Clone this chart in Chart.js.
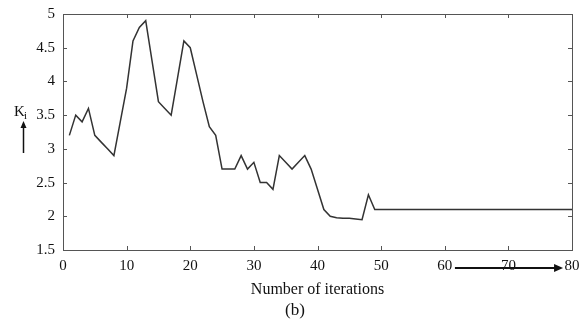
<!DOCTYPE html>
<html lang="en">
<head>
    <meta charset="UTF-8">
    <title>Ki vs number of iterations</title>
    <script src="https://cdn.jsdelivr.net/npm/chart.js"></script>
    <style>
        html, body { margin: 0; padding: 0; background: #fff; }
        .container { width: 582px; height: 325px; }
    </style>
</head>
<body>
    <div class="container">
        <canvas id="kiChart" width="582" height="325"></canvas>
    </div>

    <script>
        // data
        const iterations = [1, 2, 3, 4, 5, 6, 7, 8, 9, 10,
            11, 12, 13, 14, 15, 16, 17, 18, 19, 20,
            21, 22, 23, 24, 25, 26, 27, 28, 29, 30,
            31, 32, 33, 34, 35, 36, 37, 38, 39, 40,
            41, 42, 43, 44, 45, 46, 47, 48, 49, 50, 80];
        const kiValues = [3.2, 3.5, 3.4, 3.6, 3.2, 3.1, 3.0, 2.9, 3.4, 3.9,
            4.6, 4.8, 4.9, 4.3, 3.7, 3.6, 3.5, 4.05, 4.6, 4.5,
            4.1, 3.7, 3.33, 3.2, 2.7, 2.7, 2.7, 2.9, 2.7, 2.8,
            2.5, 2.5, 2.4, 2.9, 2.8, 2.7, 2.8, 2.9, 2.7, 2.4,
            2.1, 2.0, 1.98, 1.97, 1.97, 1.96, 1.95, 2.32, 2.1, 2.1, 2.1];
        const xTicks = [0, 10, 20, 30, 40, 50, 60, 70, 80];
        const yTicks = [1.5, 2, 2.5, 3, 3.5, 4, 4.5, 5];

        const serif = "'Liberation Serif', 'Times New Roman', serif";

        // box round the plot, inward ticks, Ki label, arrows and (b)
        const framePlugin = {
            id: 'frame',
            afterDraw(chart) {
                const ctx = chart.ctx;
                const a = chart.chartArea;
                const xs = chart.scales.x;
                const ys = chart.scales.y;
                ctx.save();
                ctx.strokeStyle = '#555';
                ctx.lineWidth = 1;
                ctx.strokeRect(Math.round(a.left) + 0.5, Math.round(a.top) + 0.5,
                    Math.round(a.right - a.left), Math.round(a.bottom - a.top));
                ctx.beginPath();
                xTicks.forEach(v => {
                    const px = Math.round(xs.getPixelForValue(v)) + 0.5;
                    ctx.moveTo(px, a.bottom); ctx.lineTo(px, a.bottom - 4);
                    ctx.moveTo(px, a.top); ctx.lineTo(px, a.top + 4);
                });
                yTicks.forEach(v => {
                    const py = Math.round(ys.getPixelForValue(v)) + 0.5;
                    ctx.moveTo(a.left, py); ctx.lineTo(a.left + 4, py);
                    ctx.moveTo(a.right, py); ctx.lineTo(a.right - 4, py);
                });
                ctx.stroke();

                // K_i with upward arrow
                ctx.fillStyle = '#111';
                ctx.font = '15px ' + serif;
                ctx.textBaseline = 'alphabetic';
                ctx.fillText('K', 14, 116);
                ctx.font = '11px ' + serif;
                ctx.fillText('i', 24, 119);
                ctx.strokeStyle = '#111';
                ctx.lineWidth = 1.5;
                ctx.beginPath();
                ctx.moveTo(23.5, 153); ctx.lineTo(23.5, 126);
                ctx.stroke();
                ctx.beginPath();
                ctx.moveTo(23.5, 121); ctx.lineTo(20.5, 128); ctx.lineTo(26.5, 128);
                ctx.closePath(); ctx.fill();

                // arrow under the x axis pointing right
                const x0 = xs.getPixelForValue(61.6);
                const x1 = xs.getPixelForValue(78.6);
                const y0 = a.bottom + 18;
                ctx.lineWidth = 2;
                ctx.beginPath();
                ctx.moveTo(x0, y0); ctx.lineTo(x1 - 8, y0);
                ctx.stroke();
                ctx.beginPath();
                ctx.moveTo(x1, y0); ctx.lineTo(x1 - 9, y0 - 4); ctx.lineTo(x1 - 9, y0 + 4);
                ctx.closePath(); ctx.fill();

                // panel label
                ctx.font = '17px ' + serif;
                ctx.textAlign = 'center';
                ctx.textBaseline = 'middle';
                ctx.fillText('(b)', 295, 311);
                ctx.restore();
            }
        };

        new Chart(document.getElementById('kiChart'), {
            type: 'line',
            data: {
                datasets: [{
                    data: iterations.map((it, i) => ({ x: it, y: kiValues[i] })),
                    borderColor: '#333',
                    borderWidth: 1.5,
                    pointRadius: 0,
                    tension: 0,
                    fill: false
                }]
            },
            options: {
                responsive: false,
                animation: false,
                layout: { padding: { left: 0, right: 10, top: 14, bottom: 24 } },
                plugins: {
                    legend: { display: false },
                    tooltip: { enabled: false },
                    title: { display: false }
                },
                scales: {
                    x: {
                        type: 'linear',
                        min: 0,
                        max: 80,
                        afterBuildTicks: s => { s.ticks = xTicks.map(v => ({ value: v })); },
                        afterFit: s => {
                            s.height = 51;
                            s.paddingLeft = 0;
                            s.paddingRight = 0;
                        },
                        grid: { display: false, drawTicks: false },
                        border: { display: false },
                        ticks: {
                            padding: 7,
                            color: '#111',
                            maxRotation: 0,
                            font: { family: serif, size: 15 }
                        },
                        title: {
                            display: true,
                            text: 'Number of iterations',
                            color: '#111',
                            font: { family: serif, size: 16 },
                            padding: { top: 0, bottom: 2 }
                        }
                    },
                    y: {
                        type: 'linear',
                        min: 1.5,
                        max: 5,
                        afterBuildTicks: s => { s.ticks = yTicks.map(v => ({ value: v })); },
                        afterFit: s => {
                            s.width = 63;
                            s.paddingTop = 0;
                            s.paddingBottom = 0;
                        },
                        grid: { display: false, drawTicks: false },
                        border: { display: false },
                        ticks: {
                            padding: 8,
                            color: '#111',
                            font: { family: serif, size: 15 },
                            callback: v => String(v)
                        }
                    }
                }
            },
            plugins: [framePlugin]
        });
    </script>
</body>
</html>
